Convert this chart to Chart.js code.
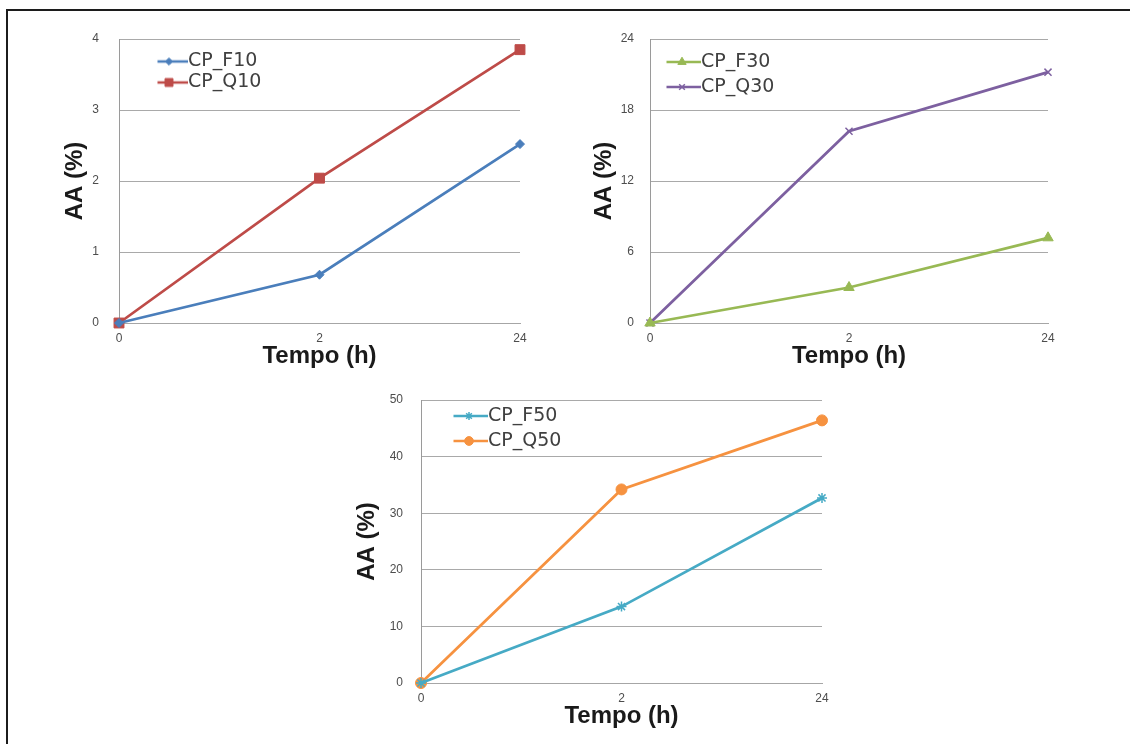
<!DOCTYPE html>
<html>
<head>
<meta charset="utf-8">
<script src="https://cdn.jsdelivr.net/npm/chart.js@4.4.1/dist/chart.umd.min.js"></script>
<style>
  html, body { margin: 0; padding: 0; background: #fff; width: 1130px; height: 744px; overflow: hidden; }
  #frame { position: absolute; left: 6px; top: 9px; width: 1200px; height: 800px;
           border-left: 2px solid #1c1c1c; border-top: 2px solid #1c1c1c; }
  canvas { position: absolute; }
</style>
</head>
<body>
<div id="frame"></div>
<canvas id="c10" width="500" height="360" style="left:40px;top:20px"></canvas>
<canvas id="c30" width="500" height="360" style="left:570px;top:20px"></canvas>
<canvas id="c50" width="520" height="360" style="left:330px;top:380px"></canvas>
<script>
// Sampling times (h) shown as categories on every x axis
const tempoLabels = ['0', '2', '24'];

// AA (%) per formulation
const cpF10 = [0, 0.68, 2.52];
const cpQ10 = [0, 2.04, 3.85];
const cpF30 = [0, 3.0, 7.2];
const cpQ30 = [0, 16.2, 21.2];
const cpF50 = [0, 13.5, 32.7];
const cpQ50 = [0, 34.2, 46.4];

// y-axis tick values of each panel
const yTicks10 = [0, 1, 2, 3, 4];
const yTicks30 = [0, 6, 12, 18, 24];
const yTicks50 = [0, 10, 20, 30, 40, 50];

const TITLE_FONT = { family: '"Liberation Sans", Arial, sans-serif', size: 24, weight: 'bold' };
const TICK_FONT = { family: '"Liberation Sans", Arial, sans-serif', size: 12 };
const LEGEND_FONT = { family: '"DejaVu Sans", Verdana, sans-serif', size: 19 };

// Small line + marker image used as the legend key
function makeSwatch(color, style, radius, bw) {
  const c = document.createElement('canvas');
  c.width = 38; c.height = 16;
  const ctx = c.getContext('2d');
  ctx.strokeStyle = color; ctx.lineWidth = 2.5;
  ctx.beginPath(); ctx.moveTo(0, 8); ctx.lineTo(38, 8); ctx.stroke();
  ctx.fillStyle = color; ctx.strokeStyle = color; ctx.lineWidth = bw;
  if (Chart.helpers && Chart.helpers.drawPoint) {
    Chart.helpers.drawPoint(ctx, { pointStyle: style, radius: radius, rotation: 0, borderWidth: bw }, 19, 8);
  }
  return c;
}

// Moves the in-plot legend to its place inside the chart area
const legendPlacer = {
  id: 'legendPlacer',
  afterLayout(chart, args, opts) {
    const lg = chart.legend;
    if (!lg) return;
    lg.left = opts.x; lg.top = opts.y;
    lg.right = opts.x + 300; lg.bottom = opts.y + 120;
    lg.width = 300; lg.height = 120;
  }
};

function seriesSet(label, data, color, style, radius, bw) {
  return {
    label: label,
    data: data,
    borderColor: color,
    backgroundColor: color,
    borderWidth: 2.75,
    pointStyle: style,
    pointRadius: radius,
    pointBorderWidth: bw,
    pointBackgroundColor: color,
    pointBorderColor: color,
    tension: 0,
    clip: false,
    swatch: makeSwatch(color, style, radius * 0.8, bw)
  };
}

function makeChart(id, sets, yTicks, g) {
  const ctx = document.getElementById(id);
  return new Chart(ctx, {
    type: 'line',
    data: { labels: tempoLabels, datasets: sets },
    plugins: [legendPlacer],
    options: {
      responsive: false,
      animation: false,
      devicePixelRatio: 1,
      layout: { autoPadding: false, padding: { top: g.padTop, right: g.padRight, left: 0, bottom: 0 } },
      plugins: {
        tooltip: { enabled: false },
        legendPlacer: { x: g.legendX, y: g.legendY },
        legend: {
          position: 'chartArea',
          align: 'start',
          labels: {
            usePointStyle: true,
            pointStyleWidth: 19,
            padding: g.legendGap,
            color: '#404040',
            font: LEGEND_FONT,
            generateLabels(chart) {
              return chart.data.datasets.map((ds, i) => ({
                text: ds.label,
                datasetIndex: i,
                pointStyle: ds.swatch,
                fillStyle: ds.borderColor,
                strokeStyle: ds.borderColor,
                lineWidth: 0,
                hidden: false,
                fontColor: '#404040'
              }));
            }
          }
        }
      },
      scales: {
        x: {
          type: 'category',
          offset: false,
          grid: { display: false, drawTicks: false },
          border: { display: true, color: '#a6a6a6', width: 1 },
          ticks: { font: TICK_FONT, color: '#4d4d4d', padding: 8, maxRotation: 0, autoSkip: false },
          title: { display: true, text: 'Tempo (h)', font: TITLE_FONT, color: '#1a1a1a',
                   padding: { top: 0, bottom: g.xTitlePad } },
          afterFit(scale) { scale.height = g.axisH; }
        },
        y: {
          min: yTicks[0],
          max: yTicks[yTicks.length - 1],
          grid: { color: '#a9a9a9', lineWidth: 1, drawTicks: false },
          border: { display: true, color: '#9a9a9a', width: 1 },
          ticks: { stepSize: yTicks[1] - yTicks[0], font: TICK_FONT, color: '#4d4d4d', padding: g.yTickPad },
          title: { display: true, text: 'AA (%)', font: TITLE_FONT, color: '#1a1a1a',
                   padding: { top: g.yTitlePad, bottom: 0 } },
          afterFit(scale) {
            scale.width = g.axisW;
            scale.paddingTop = 0;
            scale.paddingBottom = 0;
          }
        }
      }
    }
  });
}

makeChart('c10', [
  seriesSet('CP_F10', cpF10, '#4a7ebb', 'rectRot', 4.5, 1),
  seriesSet('CP_Q10', cpQ10, '#be4b48', 'rect', 7, 1)
], yTicks10, { axisW: 79, axisH: 57, padTop: 19, padRight: 20, yTitlePad: 21, xTitlePad: 9,
               yTickPad: 20, legendX: 117.5, legendY: 30, legendGap: 2 });

makeChart('c30', [
  seriesSet('CP_F30', cpF30, '#98b954', 'triangle', 6, 1),
  seriesSet('CP_Q30', cpQ30, '#7d60a0', 'crossRot', 5, 1.5)
], yTicks30, { axisW: 80, axisH: 57, padTop: 19, padRight: 22, yTitlePad: 20, xTitlePad: 9,
               yTickPad: 16, legendX: 96.5, legendY: 26.5, legendGap: 6 });

makeChart('c50', [
  seriesSet('CP_F50', cpF50, '#46aac5', 'star', 5, 1.5),
  seriesSet('CP_Q50', cpQ50, '#f69240', 'circle', 5.5, 1)
], yTicks50, { axisW: 91, axisH: 57, padTop: 20, padRight: 28, yTitlePad: 23, xTitlePad: 9.6,
               yTickPad: 18, legendX: 123.5, legendY: 20.5, legendGap: 6 });
</script>
</body>
</html>
